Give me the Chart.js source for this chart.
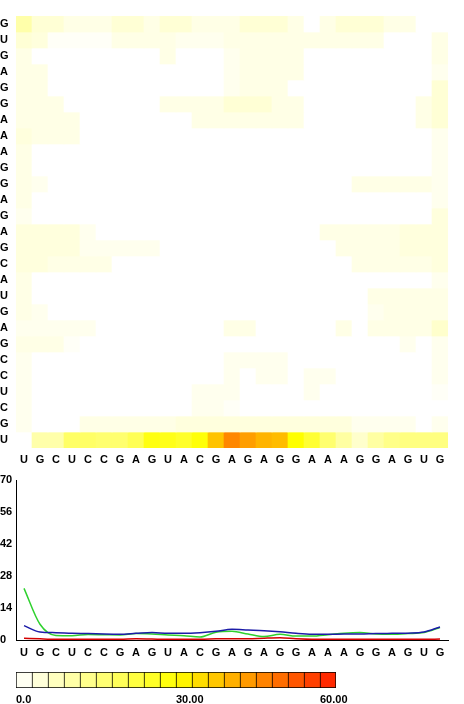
<!DOCTYPE html>
<html><head><meta charset="utf-8">
<script src="https://cdn.jsdelivr.net/npm/chart.js@4.4.1/dist/chart.umd.min.js"></script>
<style>html,body{margin:0;padding:0;background:#fff;} canvas{display:block;}</style>
</head><body>
<canvas id="heat" width="464" height="470"></canvas>
<canvas id="line" width="464" height="192"></canvas>
<canvas id="bar" width="464" height="42"></canvas>
<script>
const columns = ['U','G','C','U','C','C','G','A','G','U','A','C','G','A','G','A','G','G','A','A','A','G','G','A','G','U','G'];
const rows = ['G','U','G','A','G','G','A','A','A','G','G','A','G','A','G','C','A','U','G','A','G','C','C','U','C','G','U'];
const heat = [
  [10,5,5,3,3,3,5,5,3,5,5,3,3,3,5,5,5,3,0,3,5,5,5,3,3,0,0],
  [5,4,1,1,1,1,3,3,3,3,2,2,2,3,3,3,3,3,3,3,3,3,3,0,0,0,3],
  [3,0,0,0,0,0,0,0,0,3,0,0,0,2,3,3,3,3,0,0,0,0,0,0,0,0,3],
  [3,3,0,0,0,0,0,0,0,0,0,0,0,2,3,3,3,3,0,0,0,0,0,0,0,0,2],
  [3,3,0,0,0,0,0,0,0,0,0,0,0,2,3,3,3,0,0,0,0,0,0,0,0,0,5],
  [3,3,3,0,0,0,0,0,0,3,3,3,3,5,5,5,3,3,0,0,0,0,0,0,0,3,5],
  [3,3,3,3,0,0,0,0,0,0,0,3,3,3,3,3,3,3,0,0,0,0,0,0,0,3,5],
  [4,3,3,3,0,0,0,0,0,0,0,0,0,0,0,0,0,0,0,0,0,0,0,0,0,0,2],
  [3,0,0,0,0,0,0,0,0,0,0,0,0,0,0,0,0,0,0,0,0,0,0,0,0,0,2],
  [3,0,0,0,0,0,0,0,0,0,0,0,0,0,0,0,0,0,0,0,0,0,0,0,0,0,2],
  [3,2,0,0,0,0,0,0,0,0,0,0,0,0,0,0,0,0,0,0,0,3,3,3,3,3,2],
  [3,0,0,0,0,0,0,0,0,0,0,0,0,0,0,0,0,0,0,0,0,0,0,0,0,0,2],
  [2,0,0,0,0,0,0,0,0,0,0,0,0,0,0,0,0,0,0,0,0,0,0,0,0,0,4],
  [4,4,4,4,2,0,0,0,0,0,0,0,0,0,0,0,0,0,0,3,3,3,3,3,4,4,4],
  [4,4,4,4,2,2,2,2,2,0,0,0,0,0,0,0,0,0,0,0,3,3,3,3,4,4,4],
  [4,4,3,3,3,3,0,0,0,0,0,0,0,0,0,0,0,0,0,0,0,3,3,3,3,3,4],
  [3,0,0,0,0,0,0,0,0,0,0,0,0,0,0,0,0,0,0,0,0,0,0,0,0,0,2],
  [3,0,0,0,0,0,0,0,0,0,0,0,0,0,0,0,0,0,0,0,0,0,3,3,3,3,3],
  [3,2,0,0,0,0,0,0,0,0,0,0,0,0,0,0,0,0,0,0,0,0,2,3,3,3,3],
  [2,2,2,2,2,0,0,0,0,0,0,0,0,3,3,0,0,0,0,0,3,0,3,3,3,3,6],
  [3,3,3,1,0,0,0,0,0,0,0,0,0,0,0,0,0,0,0,0,0,0,0,0,2,0,2],
  [2,0,0,0,0,0,0,0,0,0,0,0,0,2,2,2,2,0,0,0,0,0,0,0,0,0,2],
  [2,0,0,0,0,0,0,0,0,0,0,0,0,2,0,2,2,0,2,2,0,0,0,0,0,0,2],
  [2,0,0,0,0,0,0,0,0,0,0,2,2,2,0,0,0,0,2,0,0,0,0,0,0,0,1],
  [2,0,0,0,0,0,0,0,0,0,0,2,2,1,0,0,0,0,0,0,0,0,0,0,0,0,0],
  [2,0,0,0,3,3,3,3,3,3,4,4,4,4,4,4,4,4,4,4,4,2,2,2,2,0,2],
  [0,10,10,18,18,17,17,20,28,27,25,29,38,46,43,40,39,30,24,17,11,6,11,14,15,15,15]
];
const greenSeries = [22.6,6.9,2.0,1.9,2.4,2.3,2.2,2.8,2.6,2.2,1.9,1.3,3.4,3.8,2.6,1.5,2.5,1.7,1.7,2.3,3.0,3.3,2.6,2.5,2.8,3.3,5.5];
const blueSeries  = [6.3,3.5,3.2,2.9,2.8,2.6,2.5,2.9,3.3,2.9,2.9,3.2,3.8,4.7,4.4,4.1,3.6,2.9,2.5,2.5,2.6,2.6,2.8,2.9,3.0,3.5,5.7];
const redSeries   = [0.8,0.5,0.3,0.3,0.3,0.3,0.3,0.5,0.4,0.3,0.3,0.3,0.5,0.6,0.5,0.8,1.0,0.5,0.3,0.3,0.3,0.3,0.3,0.3,0.3,0.3,0.4];
const lineTicks = [0,14,28,42,56,70];
const scaleMin = 0, scaleMax = 60, scaleBins = 20;
const scaleTickValues = [0,30,57];
const scaleTickLabels = ['0.0','30.00','60.00'];

function colorFor(v){
  if (v <= 30) { const b = Math.round(255*(1 - v/30)); return 'rgb(255,255,' + b + ')'; }
  const g = Math.max(0, Math.round(255 - (v-30)*7.5)); return 'rgb(255,' + g + ',0)';
}

Chart.defaults.font.family = "'Liberation Sans', Arial, sans-serif";
Chart.defaults.font.size = 11;
Chart.defaults.font.weight = 'bold';
Chart.defaults.color = '#000';
Chart.defaults.animation = false;
Chart.defaults.plugins.legend.display = false;
Chart.defaults.plugins.tooltip.enabled = false;

const nRows = rows.length;
new Chart(document.getElementById('heat'), {
  type: 'bar',
  data: {
    labels: columns,
    datasets: rows.map((name, r) => ({
      data: columns.map(() => [nRows-1-r, nRows-r]),
      backgroundColor: heat[r].map(colorFor),
      borderWidth: 0,
      barPercentage: 1,
      categoryPercentage: 1,
      grouped: false
    }))
  },
  options: {
    responsive: false,
    layout: { padding: { top: 16, right: 16, left: 0, bottom: 0 } },
    scales: {
      x: {
        grid: { display: false, drawTicks: false }, border: { display: false },
        ticks: { padding: 5, maxRotation: 0, autoSkip: false },
        afterFit: s => { s.height = 22; }
      },
      y: {
        min: 0, max: nRows,
        grid: { display: false, drawTicks: false }, border: { display: false },
        afterBuildTicks: s => { s.ticks = rows.map((_, r) => ({ value: nRows - 0.5 - r })); },
        ticks: { crossAlign: 'far', autoSkip: false,
          callback: v => rows[Math.round(nRows - 0.5 - v)] },
        afterFit: s => { s.width = 16; }
      }
    }
  }
});

new Chart(document.getElementById('line'), {
  type: 'line',
  data: {
    labels: columns,
    datasets: [
      { data: blueSeries, borderColor: '#1c1ca8', borderWidth: 1.5, pointRadius: 0, cubicInterpolationMode: 'monotone', order: 0 },
      { data: greenSeries, borderColor: '#2fd12f', borderWidth: 1.5, pointRadius: 0, cubicInterpolationMode: 'monotone', order: 1 },
      { data: redSeries, borderColor: '#d40000', borderWidth: 1.5, pointRadius: 0, cubicInterpolationMode: 'monotone', order: 2 }
    ]
  },
  options: {
    responsive: false,
    layout: { padding: { top: 10, right: 16, left: 0, bottom: 0 } },
    scales: {
      x: {
        offset: true,
        grid: { display: false, drawTicks: false },
        border: { display: true, color: '#000', width: 1 },
        ticks: { padding: 6, maxRotation: 0, autoSkip: false },
        afterFit: s => { s.height = 22; }
      },
      y: {
        min: 0, max: 70,
        grid: { display: false, drawTicks: false },
        border: { display: true, color: '#000', width: 1 },
        afterBuildTicks: s => { s.ticks = lineTicks.map(v => ({ value: v })); },
        ticks: { crossAlign: 'far' },
        afterFit: s => { s.width = 16; }
      }
    }
  }
});

const binWidth = (scaleMax - scaleMin) / scaleBins;
new Chart(document.getElementById('bar'), {
  type: 'bar',
  data: {
    labels: ['scale'],
    datasets: [{
      data: Array.from({ length: scaleBins }, (_, i) => ({ x: [scaleMin + i*binWidth, scaleMin + (i+1)*binWidth], y: 'scale' })),
      backgroundColor: Array.from({ length: scaleBins }, (_, i) => colorFor(scaleMin + (i+0.5)*binWidth)),
      borderColor: '#000',
      borderWidth: ctx => ({ top: 1, bottom: 1, left: 1, right: ctx.dataIndex === scaleBins-1 ? 1 : 0 }),
      borderSkipped: false,
      barPercentage: 1,
      categoryPercentage: 1
    }]
  },
  options: {
    indexAxis: 'y',
    responsive: false,
    layout: { padding: { top: 10, right: 128, left: 16, bottom: 0 } },
    scales: {
      y: { display: false },
      x: {
        type: 'linear', min: scaleMin, max: scaleMax,
        grid: { display: false, drawTicks: false }, border: { display: false },
        afterBuildTicks: s => { s.ticks = scaleTickValues.map(v => ({ value: v })); },
        ticks: { align: 'start', padding: 5, maxRotation: 0,
          callback: v => scaleTickLabels[scaleTickValues.indexOf(v)] },
        afterFit: s => { s.height = 16; }
      }
    }
  }
});
</script>
</body></html>
